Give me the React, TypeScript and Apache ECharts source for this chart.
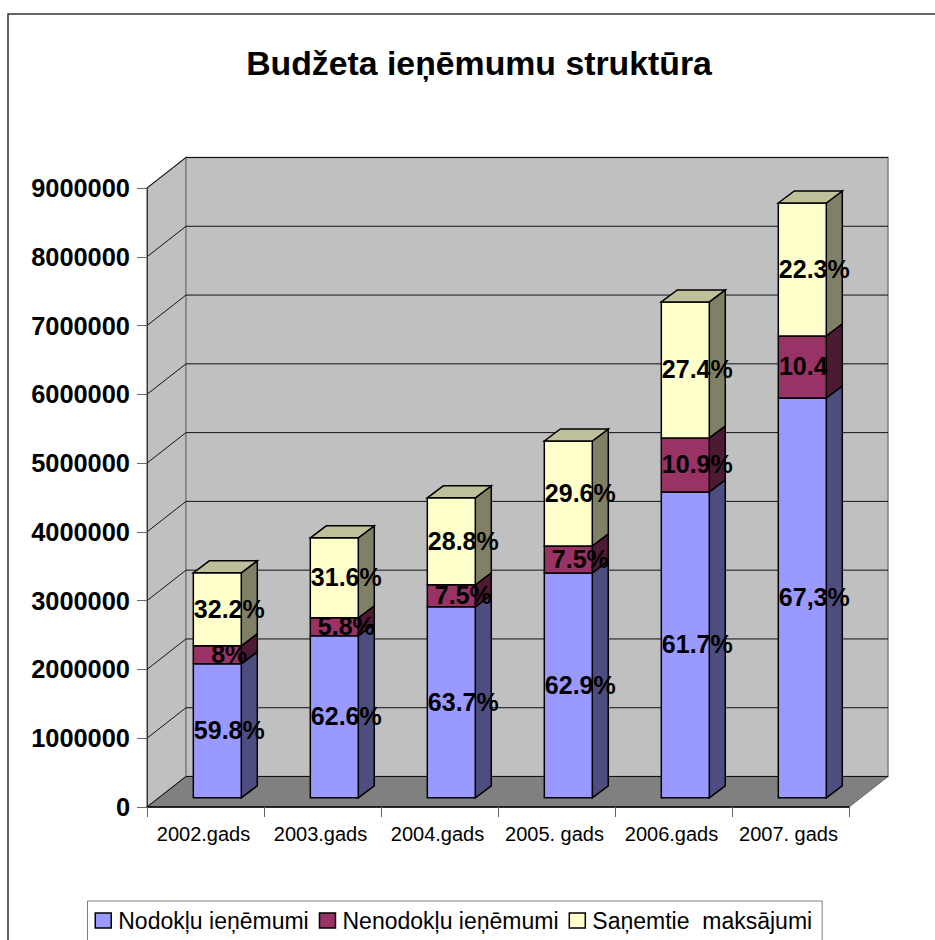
import React, { useEffect, useRef } from "react";
import * as echarts from "echarts";

const titleText = "Budžeta ieņēmumu struktūra";
const categories = ["2002.gads", "2003.gads", "2004.gads", "2005. gads", "2006.gads", "2007. gads"];
const seriesNames = ["Nodokļu ieņēmumi", "Nenodokļu ieņēmumi", "Saņemtie  maksājumi"];
const taxRevenue = [1948000, 2355000, 2776000, 3270000, 4448000, 5814000];
const nonTaxRevenue = [262000, 262000, 320000, 392000, 785000, 901000];
const receivedPayments = [1061000, 1163000, 1265000, 1526000, 1977000, 1933000];
const taxLabels = ["59.8%", "62.6%", "63.7%", "62.9%", "61.7%", "67,3%"];
const nonTaxLabels = ["8%", "5.8%", "7.5%", "7.5%", "10.9%", "10.4"];
const receivedLabels = ["32.2%", "31.6%", "28.8%", "29.6%", "27.4%", "22.3%"];
const yTicks = [0, 1000000, 2000000, 3000000, 4000000, 5000000, 6000000, 7000000, 8000000, 9000000];

const FONT = '"Liberation Sans", Arial, sans-serif';
const WALL_DX = 39;
const WALL_DY = -30.5;
const BAR_DX = 11.8;
const BAR_DY = -9.2;
const SIDE_DX = 16;
const SIDE_DY = -12;

const faceColors = [
  { front: "#9999FF", side: "#4D4D80", top: "#7373BF" },
  { front: "#993366", side: "#4D1A33", top: "#732650" },
  { front: "#FFFFCC", side: "#808066", top: "#BFBF99" },
];

const stackValues = [taxRevenue, nonTaxRevenue, receivedPayments];
const labelValues = [taxLabels, nonTaxLabels, receivedLabels];

function stackedRows(seriesIndex: number) {
  return categories.map((_, i) => {
    let base = 0;
    for (let s = 0; s < seriesIndex; s++) base += stackValues[s][i];
    return [i, base, base + stackValues[seriesIndex][i]];
  });
}

function barRenderer(seriesIndex: number) {
  const colors = faceColors[seriesIndex];
  const outline = { stroke: "#000", lineWidth: 1.5 };
  return (_params: any, api: any) => {
    const i = api.value(0);
    const low = api.coord([i, api.value(1)]);
    const high = api.coord([i, api.value(2)]);
    const width = api.size([1, 0])[0] * 0.41;
    const x0 = low[0] + BAR_DX - width / 2;
    const x1 = x0 + width;
    const yLow = low[1] + BAR_DY;
    const yHigh = high[1] + BAR_DY;
    const children: any[] = [
      {
        type: "polygon",
        shape: {
          points: [
            [x1, yLow],
            [x1 + SIDE_DX, yLow + SIDE_DY],
            [x1 + SIDE_DX, yHigh + SIDE_DY],
            [x1, yHigh],
          ],
        },
        style: { fill: colors.side, ...outline },
      },
      {
        type: "rect",
        shape: { x: x0, y: yHigh, width, height: yLow - yHigh },
        style: { fill: colors.front, ...outline },
      },
    ];
    if (seriesIndex === stackValues.length - 1) {
      children.push({
        type: "polygon",
        shape: {
          points: [
            [x0, yHigh],
            [x0 + SIDE_DX, yHigh + SIDE_DY],
            [x1 + SIDE_DX, yHigh + SIDE_DY],
            [x1, yHigh],
          ],
        },
        style: { fill: colors.top, ...outline },
      });
    }
    return { type: "group", children };
  };
}

function labelRenderer(seriesIndex: number) {
  return (_params: any, api: any) => {
    const i = api.value(0);
    const low = api.coord([i, api.value(1)]);
    const high = api.coord([i, api.value(2)]);
    const text = labelValues[seriesIndex][i];
    const shift = text.endsWith("%") ? 0 : -11;
    return {
      type: "text",
      style: {
        x: low[0] + BAR_DX + 12 + shift,
        y: (low[1] + high[1]) / 2 + BAR_DY - 0.5,
        text,
        fill: "#000",
        font: `bold 25px ${FONT}`,
        textAlign: "center",
        textVerticalAlign: "middle",
      },
    };
  };
}

function wallRenderer(params: any) {
  const { x, y, width, height } = params.coordSys;
  const bottom = y + height;
  const wallStyle = { fill: "#C0C0C0", stroke: "#808080", lineWidth: 1.5 };
  return {
    type: "group",
    children: [
      {
        type: "polygon",
        shape: {
          points: [
            [x, y],
            [x + WALL_DX, y + WALL_DY],
            [x + WALL_DX, bottom + WALL_DY],
            [x, bottom],
          ],
        },
        style: wallStyle,
      },
      {
        type: "rect",
        shape: { x: x + WALL_DX, y: y + WALL_DY, width, height },
        style: wallStyle,
      },
      {
        type: "polygon",
        shape: {
          points: [
            [x, bottom],
            [x + WALL_DX, bottom + WALL_DY],
            [x + width + WALL_DX, bottom + WALL_DY],
            [x + width, bottom],
          ],
        },
        style: { fill: "#808080", stroke: "#666", lineWidth: 1 },
      },
    ],
  };
}

function gridRenderer(params: any, api: any) {
  const { x, width } = params.coordSys;
  const y = api.coord([0, api.value(0)])[1];
  const lineStyle = { stroke: "#111", lineWidth: 1, fill: "none" };
  return {
    type: "polyline",
    shape: {
      points: [
        [x, y],
        [x + WALL_DX, y + WALL_DY],
        [x + WALL_DX + width, y + WALL_DY],
      ],
    },
    style: lineStyle,
  };
}

export default function App() {
  const ref = useRef<HTMLDivElement>(null);

  useEffect(() => {
    const chart = echarts.init(ref.current!, undefined, { renderer: "svg" });
    const barSeries = seriesNames.map((name, s) => ({
      type: "custom",
      name,
      z: 5 + s,
      itemStyle: { color: faceColors[s].front },
      encode: { x: 0, y: [1, 2] },
      data: stackedRows(s),
      renderItem: barRenderer(s),
      silent: true,
    }));
    const labelSeries = seriesNames.map((_, s) => ({
      type: "custom",
      z: 10,
      encode: { x: 0, y: [1, 2] },
      data: stackedRows(s),
      renderItem: labelRenderer(s),
      silent: true,
    }));
    chart.setOption({
      animation: false,
      backgroundColor: "#fff",
      title: {
        text: titleText,
        left: 474,
        top: 41,
        textAlign: "center",
        textStyle: { fontFamily: FONT, fontSize: 33.8, fontWeight: "bold", color: "#000" },
      },
      grid: { left: 147, right: 86, top: 188, bottom: 133 },
      legend: {
        left: 87.5,
        top: 901,
        orient: "horizontal",
        selectedMode: false,
        backgroundColor: "#fff",
        borderColor: "#808080",
        borderWidth: 1,
        padding: [8, 10, 30, 7],
        itemGap: 10,
        itemWidth: 16,
        itemHeight: 15,
        textStyle: { fontFamily: FONT, fontSize: 23, color: "#000", padding: [0, 0, 0, 2] },
        data: seriesNames.map((name, s) => ({
          name,
          icon: "rect",
          itemStyle: { color: faceColors[s].front, borderColor: "#000", borderWidth: 1.5 },
        })),
      },
      xAxis: {
        type: "category",
        data: categories,
        z: 4,
        axisLine: { show: true, lineStyle: { color: "#000", width: 1.5 } },
        axisTick: { show: true, interval: 0, length: 10, lineStyle: { color: "#666", width: 1 } },
        axisLabel: { fontFamily: FONT, fontSize: 20, color: "#000", margin: 17, interval: 0, padding: [0, 4, 0, 0] },
      },
      yAxis: {
        type: "value",
        min: 0,
        max: 9000000,
        interval: 1000000,
        z: 4,
        splitLine: { show: false },
        axisLine: { show: true, lineStyle: { color: "#333", width: 1 } },
        axisTick: { show: true, length: 10, lineStyle: { color: "#666", width: 1 } },
        axisLabel: {
          fontFamily: FONT,
          fontSize: 25.4,
          fontWeight: "bold",
          color: "#000",
          margin: 17,
          formatter: (v: number) => String(v),
        },
      },
      graphic: [
        {
          type: "polyline",
          shape: { points: [[8, 940], [8, 14], [935, 14]] },
          style: { stroke: "#333", lineWidth: 1.5, fill: "none" },
          silent: true,
        },
      ],
      series: [
        { type: "custom", z: 1, data: [0], encode: { y: 0 }, renderItem: wallRenderer, silent: true },
        { type: "custom", z: 2, data: yTicks.map((v) => [v]), encode: { y: 0 }, renderItem: gridRenderer, silent: true },
        ...barSeries,
        ...labelSeries,
      ],
    });
    return () => chart.dispose();
  }, []);

  return (
    <div
      ref={ref}
      style={{ position: "fixed", left: 0, top: 0, width: 935, height: 940, overflow: "hidden" }}
    />
  );
}
